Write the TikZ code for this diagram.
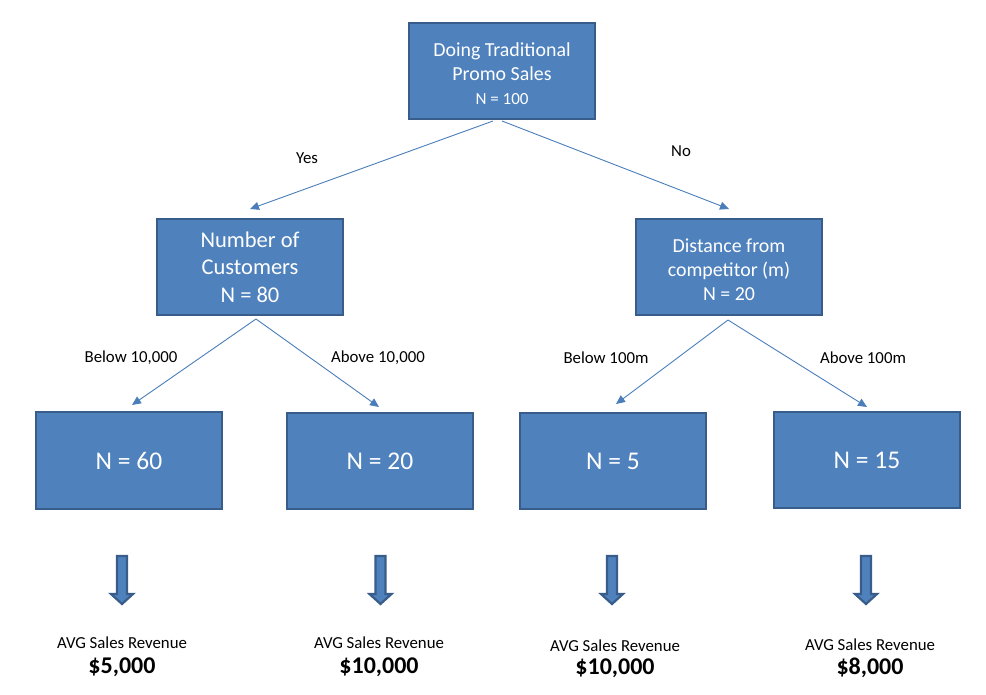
\documentclass[tikz,border=0pt]{standalone}
\usepackage{fontspec}
\setmainfont{Carlito}
\usetikzlibrary{arrows.meta}
\definecolor{boxfill}{HTML}{4F81BD}
\definecolor{boxline}{HTML}{385D8A}
\definecolor{conline}{HTML}{4A7EBB}
\newcommand{\fs}[2]{\fontsize{#1}{#2}\selectfont}
\begin{document}
\begin{tikzpicture}[x=1pt,y=-1pt,
  box/.style={draw=boxline, line width=2.2pt, fill=boxfill, text=white,
    minimum width=186pt, minimum height=96pt, align=center, inner sep=0pt},
  conn/.style={draw=conline, line width=0.9pt, -{Triangle[length=9pt,width=8pt]}},
  lbl/.style={font=\fs{16.8}{20}, text=black, inner sep=0pt},
  blk/.style={draw=boxline, line width=2.2pt, fill=boxfill, line join=miter},
  rev/.style={font=\fs{16.8}{20}, inner sep=0pt},
  val/.style={font=\bfseries\fs{24}{28}, inner sep=0pt}]
\useasboundingbox (0,0) rectangle (986,695);
\fill[white] (0,0) rectangle (986,695);

% boxes
\node[box, font=\fs{19.9}{24}] (root) at (502,71) {\rule{0pt}{19pt}Doing Traditional\\Promo Sales\\{\fs{17}{23}N = 100}};
\node[box, font=\fs{22.5}{27.5}] (cust) at (250,267) {Number of\\Customers\\N = 80};
\node[box, font=\fs{19.9}{24}] (dist) at (729,267) {\rule{0pt}{19pt}Distance from\\competitor (m)\\N = 20};
\node[box, minimum height=97pt, font=\fs{25.5}{30}] (n60) at (129,460.5) {N = 60};
\node[box, font=\fs{25.5}{30}] (n20) at (380,461) {N = 20};
\node[box, font=\fs{25.5}{30}] (n5) at (613,461) {N = 5};
\node[box, font=\fs{25.5}{30}] (n15) at (867,460) {N = 15};

% connector ends
\coordinate (rootL) at (493,121);
\coordinate (rootR) at (502,121);
\coordinate (yesT) at (250,209);
\coordinate (noT) at (729,209);
\coordinate (custS) at (256,319);
\coordinate (c60T) at (132,405);
\coordinate (c20T) at (379,407);
\coordinate (distS) at (728,320);
\coordinate (c5T) at (616,404);
\coordinate (c15T) at (867,407);

\draw[conn] (rootL) -- (yesT);
\draw[conn] (rootR) -- (noT);
\draw[conn] (custS) -- (c60T);
\draw[conn] (custS) -- (c20T);
\draw[conn] (distS) -- (c5T);
\draw[conn] (distS) -- (c15T);

% labels
\node[lbl] (lyes) at (307,158) {Yes};
\node[lbl] (lno) at (681,151) {No};
\node[lbl] (lb1) at (131,358) {Below 10,000};
\node[lbl] (la1) at (378,358) {Above 10,000};
\node[lbl] (lb2) at (606,358) {Below 100m};
\node[lbl] (la2) at (863,358) {Above 100m};

% block arrows
\foreach \cx/\nm in {122/a1, 380.5/a2, 612/a3, 866/a4}{
  \draw[blk] (\cx-5,556) -- (\cx+5,556) -- (\cx+5,594) -- (\cx+11,594)
    -- (\cx,604) -- (\cx-11,594) -- (\cx-5,594) -- cycle;
}

% revenue texts
\node[rev] (r1) at (122,643) {AVG Sales Revenue};
\node[val] (v1) at (122,667) {\$5,000};
\node[rev] (r2) at (379,643) {AVG Sales Revenue};
\node[val] (v2) at (379,667) {\$10,000};
\node[rev] (r3) at (615,646) {AVG Sales Revenue};
\node[val] (v3) at (615,668) {\$10,000};
\node[rev] (r4) at (870,645) {AVG Sales Revenue};
\node[val] (v4) at (870,668) {\$8,000};
\end{tikzpicture}
\end{document}
